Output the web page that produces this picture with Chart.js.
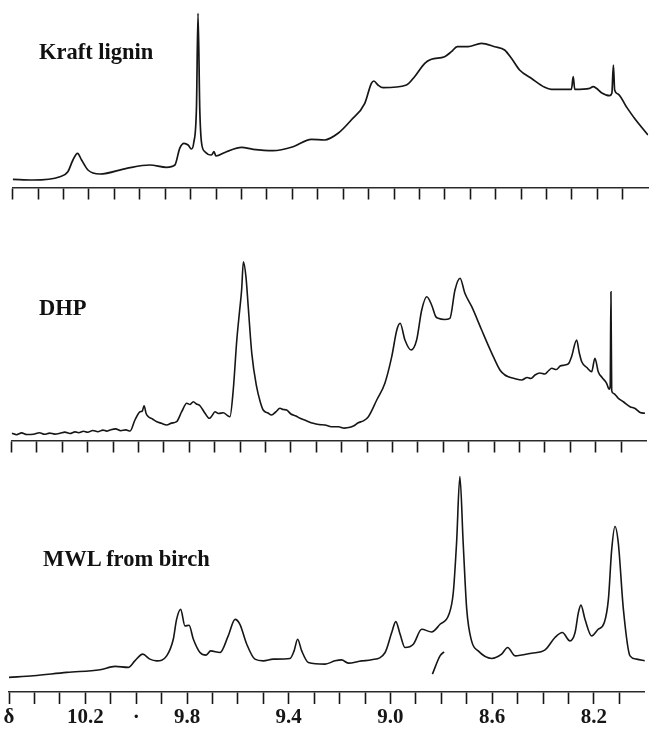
<!DOCTYPE html>
<html>
<head>
<meta charset="utf-8">
<script src="https://cdn.jsdelivr.net/npm/chart.js@4.4.0/dist/chart.umd.min.js"></script>
<style>
  html, body { margin: 0; padding: 0; background: #fff; }
  body { width: 649px; height: 729px; position: relative; overflow: hidden; }
  canvas { position: absolute; left: 0; }
  .name {
    position: absolute; font-family: "Liberation Serif", serif; font-weight: bold;
    font-size: 22.5px; line-height: 1; color: #111; white-space: nowrap;
  }
</style>
</head>
<body>
<canvas id="kraft" width="649" height="212" style="top:0"></canvas>
<canvas id="dhp" width="649" height="212" style="top:250px"></canvas>
<canvas id="mwl" width="649" height="270" style="top:465px"></canvas>
<div class="name" style="left:39px;top:41px">Kraft lignin</div>
<div class="name" style="left:39px;top:297px">DHP</div>
<div class="name" style="left:43px;top:548px">MWL from birch</div>
<script>
'use strict';

// ---------- 축 ----------
const TICK_PPM = [10.5, 10.4, 10.3, 10.2, 10.1, 10.0, 9.9, 9.8, 9.7, 9.6, 9.5, 9.4, 9.3,
  9.2, 9.1, 9.0, 8.9, 8.8, 8.7, 8.6, 8.5, 8.4, 8.3, 8.2, 8.1];
const TICK_LABELS = ['δ', '', '', '10.2', '', '·', '', '9.8', '', '', '', '9.4', '', '',
  '', '9.0', '', '', '', '8.6', '', '', '', '8.2', ''];

// ---------- Kraft lignin ----------
const KRAFT_PPM = [10.50, 10.421, 10.314, 10.283, 10.263, 10.245, 10.229, 10.204, 10.157,
  10.052, 9.961, 9.895, 9.862, 9.843, 9.826, 9.810, 9.797, 9.788, 9.777, 9.771, 9.764,
  9.757, 9.744, 9.718, 9.708, 9.701, 9.659, 9.600, 9.554, 9.476, 9.397, 9.325, 9.273,
  9.220, 9.168, 9.115, 9.089, 9.079, 9.063, 9.043, 8.951, 8.919, 8.879, 8.853, 8.801,
  8.774, 8.751, 8.709, 8.656, 8.604, 8.565, 8.538, 8.506, 8.460, 8.407, 8.381, 8.302,
  8.295, 8.289, 8.230, 8.217, 8.204, 8.184, 8.152, 8.143, 8.137, 8.132, 8.119, 8.086,
  8.054, 8.001];
const KRAFT_INT = [8.2, 7.5, 10.8, 15.8, 27.5, 34.2, 27.5, 17.5, 13.5,
  19.2, 22.5, 20.2, 22.5, 39.2, 44.2, 42.5, 38.5, 44.5, 80.8, 174.2, 77.5,
  44.5, 35.8, 32.5, 35.8, 31.5, 35.8, 40.2, 38.2, 36.8, 40.8, 48.2, 47.5,
  54.2, 67.5, 84.2, 104.2, 106.5, 102.5, 99.8, 102.5, 110.8, 124.2, 128.2, 130.8,
  135.8, 140.8, 140.8, 144.2, 140.8, 137.5, 129.2, 117.5, 109.2, 100.2, 98.2, 98.2,
  110.8, 98.2, 99.2, 100.8, 99.2, 94.8, 91.8, 94.2, 122.5, 97.5, 93.5, 80.8,
  69.2, 52.5];

// ---------- DHP ----------
const DHP_PPM = [10.499, 10.48, 10.46, 10.44, 10.414, 10.39, 10.37, 10.35, 10.33, 10.309,
  10.29, 10.27, 10.25, 10.235, 10.217, 10.20, 10.18, 10.16, 10.14, 10.125, 10.112, 10.09,
  10.07, 10.05, 10.033, 10.014, 9.994, 9.985, 9.978, 9.970, 9.961, 9.945, 9.928, 9.91,
  9.889, 9.87, 9.850, 9.830, 9.810, 9.797, 9.784, 9.772, 9.758, 9.738, 9.721, 9.710,
  9.699, 9.685, 9.666, 9.650, 9.640, 9.627, 9.613, 9.603, 9.594, 9.587, 9.577, 9.568,
  9.554, 9.535, 9.520, 9.509, 9.49, 9.476, 9.46, 9.443, 9.43, 9.417, 9.40, 9.38, 9.364,
  9.34, 9.312, 9.29, 9.266, 9.24, 9.213, 9.19, 9.167, 9.15, 9.135, 9.115, 9.095, 9.062,
  9.030, 9.003, 8.983, 8.970, 8.951, 8.927, 8.905, 8.885, 8.865, 8.846, 8.830, 8.820,
  8.795, 8.774, 8.754, 8.734, 8.715, 8.688, 8.649, 8.609, 8.577, 8.560, 8.544, 8.52,
  8.491, 8.47, 8.455, 8.439, 8.42, 8.40, 8.385, 8.373, 8.355, 8.34, 8.321, 8.305, 8.295,
  8.275, 8.265, 8.255, 8.235, 8.216, 8.203, 8.190, 8.175, 8.157, 8.147, 8.143, 8.140,
  8.137, 8.131, 8.111, 8.09, 8.065, 8.045, 8.025, 8.006];
const DHP_INT = [7.2, 5.8, 7.6, 6.0, 6.2, 7.8, 6.2, 7.4, 6.4, 7.2,
  8.4, 7.0, 8.6, 7.8, 9.2, 8.2, 10.0, 8.8, 10.4, 9.4, 10.5, 11.6,
  9.8, 10.6, 9.5, 20.5, 28.8, 29.5, 34.8, 27.0, 23.8, 21.5, 18.8, 17.2,
  15.5, 17.4, 18.8, 28.8, 37.2, 36.0, 38.8, 36.5, 34.8, 27.2, 22.2, 25.0,
  28.8, 27.0, 27.8, 25.0, 23.8, 50.5, 100.5, 127.2, 150.5, 178.8, 163.8, 133.8,
  87.2, 53.8, 38.0, 30.5, 27.5, 25.5, 28.5, 32.2, 31.0, 30.5, 26.5, 24.5, 22.2,
  19.8, 17.2, 16.0, 15.5, 13.8, 13.8, 12.4, 13.2, 15.0, 17.8, 19.6, 23.8, 40.5,
  57.2, 83.8, 110.5, 117.2, 100.5, 90.5, 100.5, 130.5, 143.8, 135.5, 124.0, 122.2,
  121.0, 122.2, 150.5, 162.2, 147.2, 133.8, 110.5, 87.2, 70.5, 66.0, 63.8, 62.0,
  60.5, 63.0, 62.0, 65.5, 67.5, 66.5, 70.0, 72.2, 71.0, 74.5, 75.5, 77.5, 83.8,
  100.5, 88.0, 78.8, 73.0, 68.8, 82.2, 68.8, 63.0, 57.2, 51.2, 53.8, 148.8,
  50.0, 47.2, 42.2, 38.5, 33.8, 32.0, 28.0, 27.2];

// ---------- MWL from birch ----------
const MWL_PPM = [10.500, 10.404, 10.273, 10.142, 10.083, 10.031, 10.005, 9.974, 9.946,
  9.919, 9.880, 9.854, 9.841, 9.825, 9.808, 9.792, 9.775, 9.749, 9.725, 9.707, 9.670,
  9.638, 9.611, 9.592, 9.565, 9.533, 9.500, 9.461, 9.395, 9.379, 9.365, 9.349, 9.323,
  9.257, 9.218, 9.192, 9.166, 9.113, 9.074, 9.021, 8.995, 8.979, 8.962, 8.943, 8.910,
  8.877, 8.838, 8.805, 8.770, 8.753, 8.740, 8.727, 8.714, 8.700, 8.681, 8.655, 8.602,
  8.563, 8.539, 8.510, 8.445, 8.392, 8.353, 8.324, 8.294, 8.274, 8.261, 8.251, 8.235,
  8.209, 8.183, 8.159, 8.143, 8.130, 8.117, 8.104, 8.084, 8.058, 8.032, 7.999];
const MWL_INT = [14.7, 16.3, 19.7, 22.3, 25.7, 24.7, 31.3, 38.0, 33.0,
  31.3, 36.3, 53.0, 73.0, 83.0, 66.3, 67.0, 53.0, 39.7, 37.0, 41.3, 39.7,
  56.3, 73.0, 68.0, 48.0, 33.0, 31.3, 33.0, 33.7, 41.3, 53.0, 41.3, 29.7,
  28.0, 31.3, 32.3, 29.0, 31.3, 32.3, 39.7, 59.7, 70.7, 58.0, 44.7, 48.0,
  63.0, 60.3, 68.0, 78.0, 99.7, 149.7, 216.3, 149.7, 83.0, 51.3, 41.3, 33.7,
  38.0, 44.7, 36.3, 39.0, 42.3, 54.7, 59.7, 51.3, 59.7, 79.7, 87.3, 73.0,
  56.3, 63.0, 69.7, 93.0, 143.0, 166.3, 149.7, 83.0, 36.3, 33.0, 31.3];
// 원본 스캔에 있는 짧은 자국
const MWL_MARK_PPM = [8.835, 8.805, 8.789];
const MWL_MARK_INT = [18.0, 36.3, 40.3];

const INK = '#161616';

function points(xs, ys) {
  return xs.map((x, i) => ({ x, y: ys[i] }));
}

function lineSet(xs, ys, width) {
  return {
    data: points(xs, ys),
    borderColor: INK,
    borderWidth: width,
    pointRadius: 0,
    fill: false,
    cubicInterpolationMode: 'monotone',
  };
}

function makePanel(id, datasets, cfg) {
  return new Chart(document.getElementById(id), {
    type: 'line',
    data: { datasets },
    options: {
      responsive: false,
      animation: false,
      devicePixelRatio: 1,
      layout: { padding: cfg.padding },
      plugins: { legend: { display: false }, tooltip: { enabled: false } },
      scales: {
        x: {
          type: 'linear',
          reverse: true,
          min: 8.0,
          max: 10.5,
          afterBuildTicks: (axis) => { axis.ticks = TICK_PPM.map((v) => ({ value: v })); },
          grid: {
            display: true, drawOnChartArea: false, drawTicks: true,
            tickLength: 12, tickWidth: 1.6, tickColor: INK,
          },
          border: { display: true, color: '#2a2a2a', width: 1.5 },
          ticks: {
            display: cfg.labels,
            autoSkip: false,
            maxRotation: 0,
            padding: 1,
            color: INK,
            font: { family: '"Liberation Serif", serif', size: 21, weight: 'bold', lineHeight: 1.2 },
            callback: (value, index) => TICK_LABELS[index],
          },
        },
        y: { display: false, min: 0, max: cfg.yMax },
      },
    },
  });
}

makePanel('kraft', [lineSet(KRAFT_PPM, KRAFT_INT, 1.7)], {
  padding: { left: 12.7, right: 0.8, top: 5, bottom: 12.5 }, yMax: 182.5, labels: false,
});
makePanel('dhp', [lineSet(DHP_PPM, DHP_INT, 1.6)], {
  padding: { left: 11.5, right: 2.5, top: 5, bottom: 9.5 }, yMax: 185.5, labels: false,
});
makePanel('mwl', [lineSet(MWL_PPM, MWL_INT, 1.6), lineSet(MWL_MARK_PPM, MWL_MARK_INT, 1.6)], {
  padding: { left: 9, right: 4.25, top: 5, bottom: 3.8 }, yMax: 223, labels: true,
});
</script>
</body>
</html>
